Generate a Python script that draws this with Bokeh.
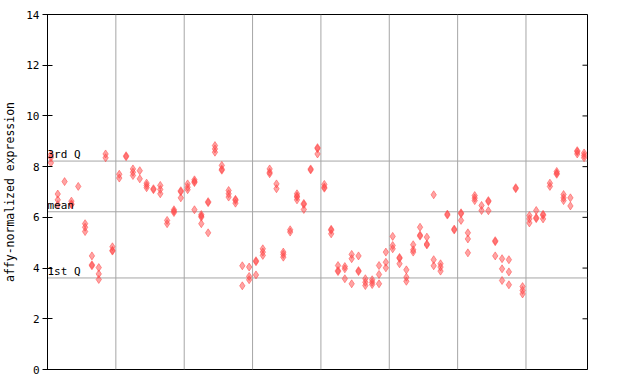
from bokeh.plotting import figure
from bokeh.models import Range1d, Span, Label, FixedTicker
from bokeh.embed import file_html
from bokeh.resources import INLINE

# replicate values per sample, grouped between the vertical gridlines
group1 = [[8.48, 8.36, 8.15], [6.92, 6.69, 6.50], [7.41], [6.64, 6.53, 6.50], [7.22],
          [5.75, 5.61, 5.44], [4.48, 4.13, 4.09], [4.02, 3.77, 3.55], [8.50, 8.35], [4.84, 4.70, 4.67]]
group2 = [[7.70, 7.55], [8.43, 8.39], [7.91, 7.78, 7.65], [7.84, 7.52], [7.35, 7.26, 7.17],
          [7.13, 7.09], [7.26, 7.10, 6.93], [5.88, 5.75], [6.30, 6.24, 6.19], [7.05, 7.01, 6.77]]
group3 = [[7.32, 7.19, 7.09], [7.48, 7.41, 7.37, 6.30], [6.11, 6.05, 6.01, 5.75], [6.62, 6.58, 5.39],
          [8.83, 8.70, 8.57], [8.05, 7.90, 7.86], [7.06, 6.93, 6.80], [6.71, 6.67, 6.56],
          [4.09, 3.30], [4.04, 3.67, 3.54]]
group4 = [[4.29, 4.25, 3.73], [4.76, 4.63, 4.50], [7.91, 7.78, 7.72], [7.32, 7.13], [4.63, 4.54, 4.43],
          [5.51, 5.42], [6.93, 6.84, 6.80, 6.69], [6.55, 6.51, 6.31], [7.91, 7.87], [8.75, 8.71, 8.50]]
group5 = [[7.30, 7.19, 7.15], [5.53, 5.49, 5.35], [4.10, 3.90, 3.86], [4.06, 3.97, 3.58],
          [4.54, 4.37, 3.38], [4.48, 3.90, 3.86], [3.58, 3.44, 3.31], [3.54, 3.44, 3.35],
          [4.10, 3.75, 3.38], [4.63, 4.23, 4.01]]
group6 = [[5.25, 4.89, 4.76], [4.42, 4.38, 4.17], [3.93, 3.64, 3.48], [4.92, 4.72, 4.63],
          [5.61, 5.30, 5.26], [5.22, 4.95, 4.91], [6.89, 4.33, 4.09], [4.17, 4.04, 3.88],
          [6.13, 6.09], [5.54, 5.50]]
group7 = [[6.18, 6.14, 5.88], [5.39, 5.15, 4.60], [6.86, 6.76, 6.66], [6.47, 6.27], [6.66, 6.62, 6.26],
          [5.08, 5.04, 4.48], [4.37, 3.97, 3.51], [4.33, 3.85, 3.34], [7.17, 7.13], [3.27, 3.12, 2.98]]
group8 = [[6.07, 5.94, 5.78], [6.27, 5.99, 5.95], [6.12, 6.08, 5.94], [7.35, 7.22], [7.81, 7.74, 7.70],
          [6.90, 6.77, 6.66], [6.77, 6.45], [8.63, 8.59, 8.50], [8.54, 8.44, 8.35]]

q1_value = 3.61
mean_value = 6.22
q3_value = 8.22
y_ticks = [0, 2, 4, 6, 8, 10, 12, 14]

groups = [group1, group2, group3, group4, group5, group6, group7, group8]

xs, ys, boundaries = [], [], []
idx = 0
for g in groups:
    for reps in g:
        for v in reps:
            xs.append(idx + 0.5)
            ys.append(v)
        idx += 1
    boundaries.append(idx)
n_samples = idx

FONT = "DejaVu Sans Mono"
RED = "#ff4a4a"
GREY = "#a6a6a6"

p = figure(width=632, height=376, x_range=Range1d(0, n_samples), y_range=Range1d(0, 14),
           output_backend="svg", toolbar_location=None, x_axis_location=None,
           min_border_left=44, min_border_right=45, min_border_top=14, min_border_bottom=7)
p.background_fill_color = "white"
p.border_fill_color = "white"
p.outline_line_color = "black"
p.outline_line_width = 1
p.outline_line_alpha = 1.0
p.xgrid.visible = False
p.ygrid.visible = False

for b in boundaries[:-1]:
    p.add_layout(Span(location=b, dimension="height", line_color=GREY, line_width=1, level="underlay"))
for q in (q1_value, mean_value, q3_value):
    p.add_layout(Span(location=q, dimension="width", line_color=GREY, line_width=1, level="underlay"))

p.scatter(xs, ys, marker="diamond", size=8, fill_color=RED, fill_alpha=0.5,
          line_color=RED, line_alpha=0.55, line_width=1)

# inward tick marks on the right edge of the frame (outer half is clipped)
p.scatter([n_samples] * len(y_ticks), y_ticks, marker="dash", size=10,
          line_color="black", line_width=1)

ax = p.yaxis[0]
ax.ticker = FixedTicker(ticks=y_ticks)
ax.major_tick_in = 5
ax.major_tick_out = 5
ax.minor_tick_line_color = None
ax.axis_line_color = "black"
ax.major_tick_line_color = "black"
ax.major_label_text_font = FONT
ax.major_label_text_font_size = "11px"
ax.major_label_text_color = "black"
ax.major_label_standoff = 3
ax.axis_label = "affy-normalized expression"
ax.axis_label_text_font = FONT
ax.axis_label_text_font_size = "11.5px"
ax.axis_label_text_font_style = "normal"
ax.axis_label_text_color = "black"
ax.axis_label_standoff = 6

for text, q in (("3rd Q", q3_value), ("mean", mean_value), ("1st Q", q1_value)):
    p.add_layout(Label(x=0, y=q, text=text, x_offset=0, y_offset=0, text_baseline="bottom",
                       text_font=FONT, text_font_size="11px", text_color="black"))

open("out.html", "w").write(file_html(p, INLINE))
